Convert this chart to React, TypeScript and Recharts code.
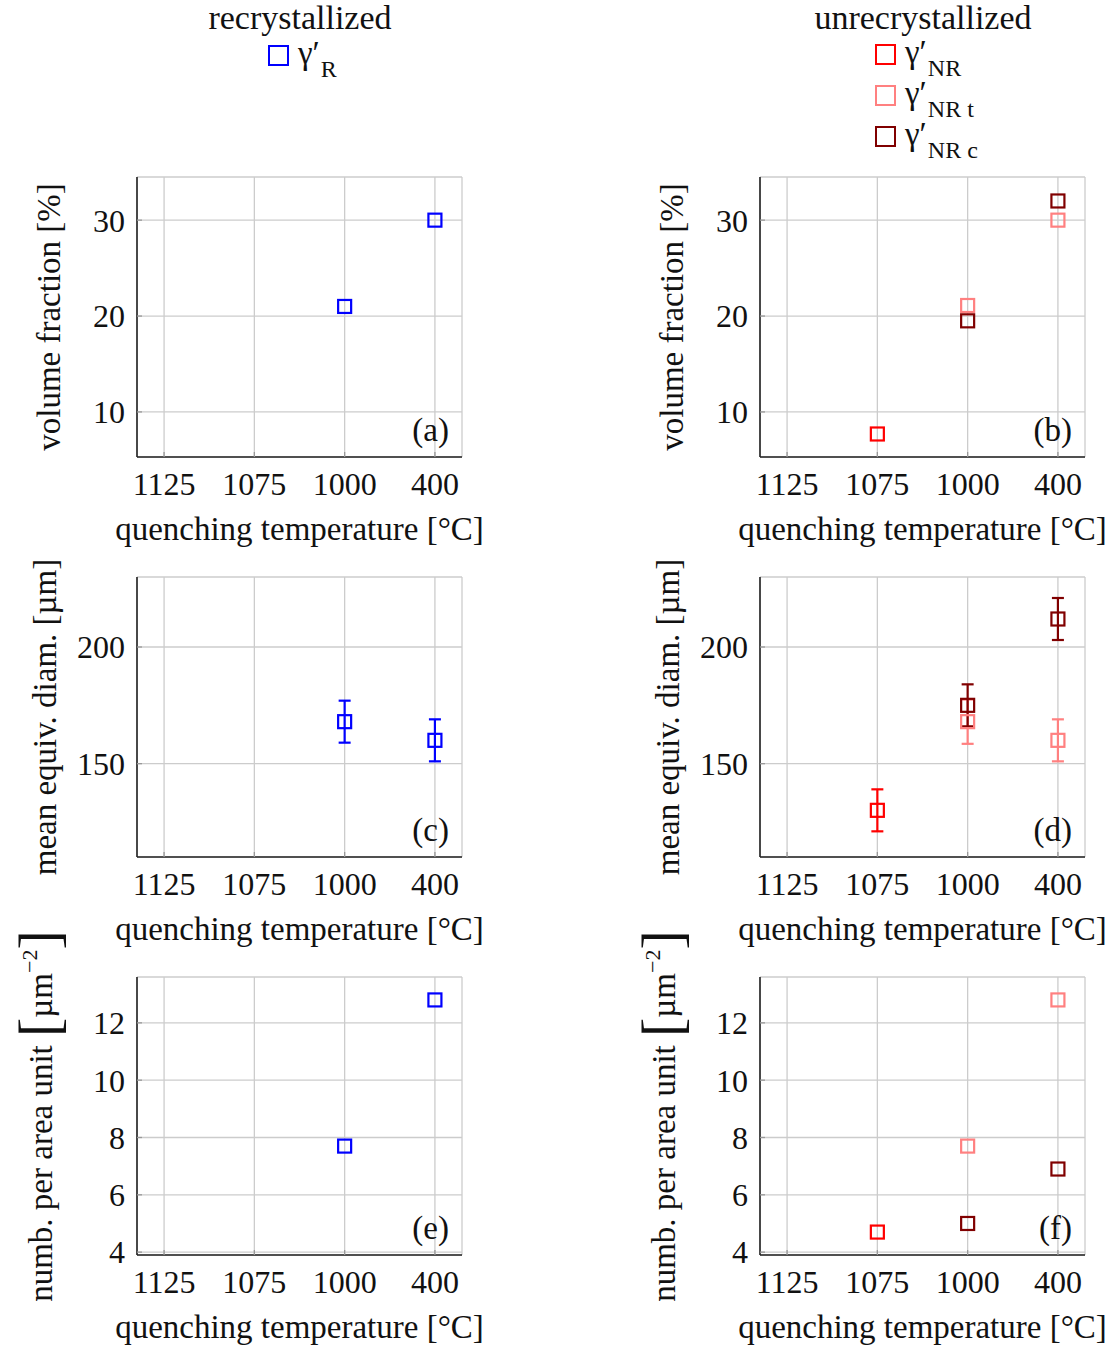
import React from "react";
import { CartesianGrid, ErrorBar, Scatter, ScatterChart, XAxis, YAxis } from "recharts";

const FONT = "'Liberation Serif', 'Times New Roman', serif";

// categories on the x axis (quenching temperature)
const temps = ["1125", "1075", "1000", "400"];
const tempIdx = [0, 1, 2, 3];

// volume fraction [%]
const volR = [null, null, 21, 30];
const volNR = [null, 7.7, null, null];
const volNRt = [null, null, 21.1, 30];
const volNRc = [null, null, 19.5, 32];

// mean equivalent diameter [um] and errors
const diamR = [null, null, 168, 160];
const diamRErr = [0, 0, 9, 9];
const diamNR = [null, 130, null, null];
const diamNRErr = [0, 9, 0, 0];
const diamNRt = [null, null, 168, 160];
const diamNRtErr = [0, 0, 9.5, 9];
const diamNRc = [null, null, 175, 212];
const diamNRcErr = [0, 0, 9, 9];

// number per area unit [um^-2]
const numR = [null, null, 7.7, 12.8];
const numNR = [null, 4.7, null, null];
const numNRt = [null, null, 7.7, 12.8];
const numNRc = [null, null, 5.0, 6.9];

const volTicks = [10, 20, 30];
const diamTicks = [150, 200];
const numTicks = [4, 6, 8, 10, 12];

const BLUE = "#0000ff";
const RED = "#ff0000";
const PINK = "#ff8080";
const DARK = "#800000";

type Series = { color: string; values: (number | null)[]; errors?: number[] };

const toPoints = (values: (number | null)[], errors?: number[]) =>
  tempIdx
    .filter((i) => values[i] != null)
    .map((i) => ({ x: i, y: values[i] as number, err: errors ? errors[i] : 0 }));

const square = (color: string) => (props: any) => {
  const { cx, cy } = props;
  return (
    <rect x={cx - 6.5} y={cy - 6.5} width={13} height={13} fill="none" stroke={color} strokeWidth={2.2} />
  );
};

const TOP = 60;

interface PanelProps {
  left: number;
  plotTop: number;
  width: number;
  right: number;
  plotHeight: number;
  yDomain: [number, number];
  yTicks: number[];
  yLabel: (cx: number, cy: number) => React.ReactNode;
  labelX: number;
  letter: string;
  series: Series[];
}

const Panel = (props: PanelProps) => {
  const { left, plotTop, width, right, plotHeight, yDomain, yTicks, yLabel, labelX, letter, series } = props;
  return (
    <div style={{ position: "absolute", left, top: plotTop - TOP }}>
      <ScatterChart
        width={width}
        height={plotHeight + TOP + 100}
        margin={{ top: TOP, right, bottom: 0, left: 0 }}
      >
        <CartesianGrid stroke="#cccccc" strokeWidth={1.3} />
        <XAxis
          type="number"
          dataKey="x"
          domain={[-0.3, 3.3]}
          ticks={tempIdx}
          interval={0}
          tickFormatter={(v: number) => temps[v]}
          height={100}
          axisLine={{ stroke: "#222", strokeWidth: 1.6 }}
          tickLine={{ stroke: "#999", strokeWidth: 1.3 }}
          tickSize={-5}
          tickMargin={20}
          tick={{ fill: "#111", fontSize: 32, fontFamily: FONT }}
          label={(p: any) => {
            const vb = p.viewBox;
            return (
              <g fontFamily={FONT} fill="#111">
                <text x={vb.x + vb.width / 2} y={vb.y + 83} fontSize={33} textAnchor="middle">
                  quenching temperature [°C]
                </text>
                <text x={vb.x + vb.width - 13} y={vb.y - 16} fontSize={33} textAnchor="end">
                  {letter}
                </text>
              </g>
            );
          }}
        />
        <YAxis
          type="number"
          dataKey="y"
          domain={yDomain}
          ticks={yTicks}
          interval={0}
          allowDataOverflow
          width={137}
          axisLine={{ stroke: "#222", strokeWidth: 1.6 }}
          tickLine={{ stroke: "#999", strokeWidth: 1.3 }}
          tickSize={-5}
          tickMargin={17}
          tick={{ fill: "#111", fontSize: 32, fontFamily: FONT }}
          label={(p: any) => {
            const vb = p.viewBox;
            return yLabel(labelX, vb.y + vb.height / 2);
          }}
        />
        {series.map((s, k) => (
          <Scatter
            key={k}
            data={toPoints(s.values, s.errors)}
            shape={square(s.color)}
            isAnimationActive={false}
          >
            {s.errors ? (
              <ErrorBar dataKey="err" direction="y" width={6} stroke={s.color} strokeWidth={2.2} />
            ) : null}
          </Scatter>
        ))}
      </ScatterChart>
    </div>
  );
};

const rotText = (text: React.ReactNode) => (cx: number, cy: number) => (
  <text
    x={cx}
    y={cy}
    transform={`rotate(-90 ${cx} ${cy})`}
    textAnchor="middle"
    fontFamily={FONT}
    fontSize={33}
    fill="#111"
  >
    {text}
  </text>
);

const volLabel = rotText("volume fraction [%]");
const diamLabel = rotText("mean equiv. diam. [µm]");
const numLabel = rotText(
  <>
    numb. per area unit{" "}
    <tspan fontSize={58} dy={6}>[</tspan>
    <tspan fontSize={33} dy={-6}>µm</tspan>
    <tspan fontSize={22} dy={-15}>−2</tspan>
    <tspan fontSize={58} dy={21}>]</tspan>
  </>
);

const LegendEntry = (p: { x: number; y: number; color: string; sub: string }) => (
  <g>
    <rect x={p.x} y={p.y} width={19} height={19} fill="none" stroke={p.color} strokeWidth={2} />
    <text x={p.x + 29} y={p.y + 18} fontSize={33}>
      γ′
      <tspan fontSize={24} dx={1} dy={13}>{p.sub}</tspan>
    </text>
  </g>
);

export default function App() {
  const ROW = [177, 577, 977];
  return (
    <div
      style={{
        position: "absolute",
        left: 0,
        top: 0,
        width: 1113,
        height: 1352,
        background: "#fff",
        fontFamily: FONT,
      }}
    >
      <svg width={1113} height={176} style={{ position: "absolute", left: 0, top: 0 }}>
        <g fontFamily={FONT} fill="#111">
          <text x={300} y={29} fontSize={34} textAnchor="middle">recrystallized</text>
          <text x={923} y={29} fontSize={34} textAnchor="middle">unrecrystallized</text>
          <LegendEntry x={269} y={46} color={BLUE} sub="R" />
          <LegendEntry x={876} y={45} color={RED} sub="NR" />
          <LegendEntry x={876} y={86} color={PINK} sub="NR t" />
          <LegendEntry x={876} y={127} color={DARK} sub="NR c" />
        </g>
      </svg>

      <Panel
        left={0}
        plotTop={ROW[0]}
        width={500}
        right={38}
        plotHeight={280}
        yDomain={[5.3, 34.5]}
        yTicks={volTicks}
        yLabel={volLabel}
        labelX={60}
        letter="(a)"
        series={[{ color: BLUE, values: volR }]}
      />
      <Panel
        left={623}
        plotTop={ROW[0]}
        width={490}
        right={28}
        plotHeight={280}
        yDomain={[5.3, 34.5]}
        yTicks={volTicks}
        yLabel={volLabel}
        labelX={60}
        letter="(b)"
        series={[
          { color: RED, values: volNR },
          { color: PINK, values: volNRt },
          { color: DARK, values: volNRc },
        ]}
      />
      <Panel
        left={0}
        plotTop={ROW[1]}
        width={500}
        right={38}
        plotHeight={280}
        yDomain={[110, 230]}
        yTicks={diamTicks}
        yLabel={diamLabel}
        labelX={56}
        letter="(c)"
        series={[{ color: BLUE, values: diamR, errors: diamRErr }]}
      />
      <Panel
        left={623}
        plotTop={ROW[1]}
        width={490}
        right={28}
        plotHeight={280}
        yDomain={[110, 230]}
        yTicks={diamTicks}
        yLabel={diamLabel}
        labelX={56}
        letter="(d)"
        series={[
          { color: RED, values: diamNR, errors: diamNRErr },
          { color: PINK, values: diamNRt, errors: diamNRtErr },
          { color: DARK, values: diamNRc, errors: diamNRcErr },
        ]}
      />
      <Panel
        left={0}
        plotTop={ROW[2]}
        width={500}
        right={38}
        plotHeight={278}
        yDomain={[3.9, 13.6]}
        yTicks={numTicks}
        yLabel={numLabel}
        labelX={52}
        letter="(e)"
        series={[{ color: BLUE, values: numR }]}
      />
      <Panel
        left={623}
        plotTop={ROW[2]}
        width={490}
        right={28}
        plotHeight={278}
        yDomain={[3.9, 13.6]}
        yTicks={numTicks}
        yLabel={numLabel}
        labelX={52}
        letter="(f)"
        series={[
          { color: RED, values: numNR },
          { color: PINK, values: numNRt },
          { color: DARK, values: numNRc },
        ]}
      />
    </div>
  );
}
